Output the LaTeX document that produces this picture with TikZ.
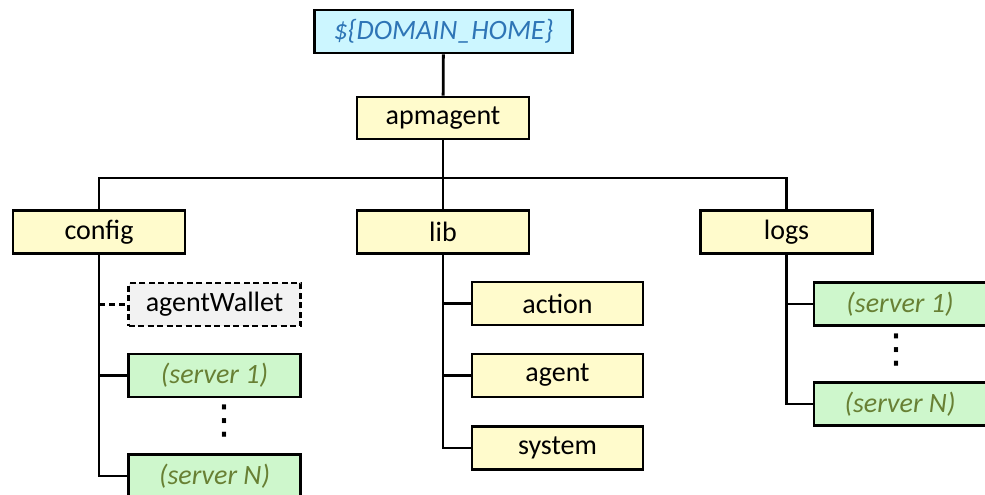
\documentclass[tikz,border=0pt]{standalone}
\usepackage{fontspec}
\setmainfont{Carlito}
\newfontfamily\dotsfont{DejaVu Sans}
\definecolor{yfill}{RGB}{255,251,204}
\definecolor{bfill}{RGB}{204,246,255}
\definecolor{btext}{RGB}{46,117,182}
\definecolor{gfill}{RGB}{206,247,204}
\definecolor{gtext}{RGB}{104,128,52}
\definecolor{wfill}{RGB}{242,242,242}
\begin{document}
\begin{tikzpicture}[x=1pt,y=-1pt,
  box/.style={draw=black,line width=2.8pt,minimum width=172pt,minimum height=43pt,inner sep=0pt,font=\fontsize{28}{30}\selectfont},
  ybox/.style={box,fill=yfill},
  bbox/.style={box,fill=bfill,text=btext,font=\fontsize{28}{30}\selectfont\itshape},
  gbox/.style={box,fill=gfill,text=gtext,font=\fontsize{28}{30}\selectfont\itshape},
  wbox/.style={box,fill=wfill,dash pattern=on 6pt off 3.5pt},
  link/.style={draw=black,line width=2.8pt},
  dashlink/.style={link,dash pattern=on 6pt off 4pt},
  vdot/.style={font=\fontsize{40}{40}\selectfont\dotsfont,inner sep=0pt}]
\useasboundingbox (0,0) rectangle (985,495);
% nodes
\node[bbox,minimum width=258pt] (home) at (443.5,31.5) {\$\{DOMAIN\_HOME\}};
\node[ybox,minimum height=42pt] (apm) at (443,118) {apmagent};
\node[ybox] (config) at (99,232) {config};
\node[ybox] (lib) at (443,232) {lib};
\node[ybox] (logs) at (786.5,232) {logs};
\node[wbox] (wallet) at (214.5,304.5) {agentWallet};
\node[gbox] (cs1) at (214.5,375.5) {(server 1)};
\node[gbox] (csn) at (214.5,476) {(server N)};
\node[ybox,minimum width=171pt] (action) at (557.5,303.5) {action};
\node[ybox,minimum width=171pt] (agent) at (557.5,375.5) {agent};
\node[ybox,minimum width=171pt] (system) at (557.5,448) {system};
\node[gbox] (ls1) at (900,304) {(server 1)};
\node[gbox] (lsn) at (900,404) {(server N)};
\node[vdot] (cdots) at (224,421) {⋮};
\node[vdot] (ldots) at (896,350) {⋮};
% connectors
\coordinate (bar) at (443,178);
\draw[link] (home) -- (apm);
\draw[link] (apm) -- (bar);
\draw[link] (config.north) |- (bar) -| (logs.north);
\draw[link] (bar) -- (lib);
\draw[link] (config.south) |- (csn.west);
\draw[link] (config.south |- cs1.west) -- (cs1.west);
\draw[dashlink] (config.south |- wallet.west) -- (wallet.west);
\draw[link] (lib.south) |- (system.west);
\draw[link] (lib.south |- action.west) -- (action.west);
\draw[link] (lib.south |- agent.west) -- (agent.west);
\draw[link] (logs.south) |- (lsn.west);
\draw[link] (logs.south |- ls1.west) -- (ls1.west);
\end{tikzpicture}
\end{document}
